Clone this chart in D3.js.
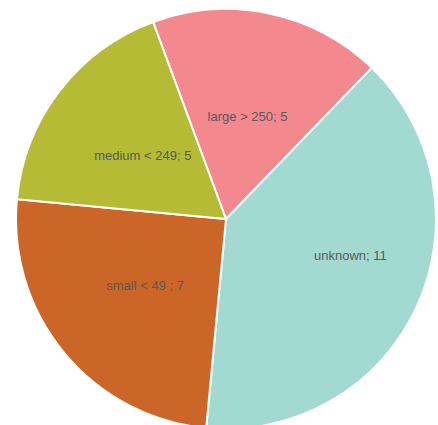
<!DOCTYPE html>
<html>
<head>
<meta charset="utf-8">
<script src="https://cdn.jsdelivr.net/npm/d3@7"></script>
<style>
  html, body { margin: 0; padding: 0; background: #fff; }
  svg { display: block; }
</style>
</head>
<body>
<div id="chart"></div>
<script>
// data
var categories = ["large > 250", "unknown", "small < 49 ", "medium < 249"];
var values = [5, 11, 7, 5];
var colors = ["#F4888F", "#A2DAD2", "#CC6628", "#B5BB35"];

var width = 438, height = 425;
var cx = 226, cy = 219, radius = 210;

// Excel "best fit" pushes the big slice's label outward a bit
var labelNudge = {"unknown": [29, -7]};

var svg = d3.select("#chart")
  .append("svg")
  .attr("width", width)
  .attr("height", height)
  .append("g")
  .attr("transform", "translate(" + cx + "," + cy + ")");

var data = categories.map(function(c, i) { return {name: c, value: values[i], color: colors[i]}; });

// first slice starts a little left of 12 o'clock
var startAngle = -20.3 * Math.PI / 180;
var pie = d3.pie()
  .sort(null)
  .value(function(d) { return d.value; })
  .startAngle(startAngle)
  .endAngle(startAngle + 2 * Math.PI);

var arc = d3.arc().innerRadius(0).outerRadius(radius);
var labelArc = d3.arc().innerRadius(radius * 0.5).outerRadius(radius * 0.5);

var slices = svg.selectAll("g.slice")
  .data(pie(data))
  .enter()
  .append("g")
  .attr("class", "slice");

slices.append("path")
  .attr("d", arc)
  .style("fill", function(d) { return d.data.color; })
  .style("stroke", "#fff")
  .style("stroke-width", 2);

slices.append("text")
  .attr("transform", function(d) {
    var c = labelArc.centroid(d);
    var n = labelNudge[d.data.name] || [0, 0];
    return "translate(" + (c[0] + n[0]) + "," + (c[1] + n[1]) + ")";
  })
  .attr("text-anchor", "middle")
  .attr("dy", "0.35em")
  .style("font-family", "'Liberation Sans', Arial, sans-serif")
  .style("font-size", "13px")
  .style("fill", "#595959")
  .text(function(d) { return d.data.name + "; " + d.data.value; });
</script>
</body>
</html>
